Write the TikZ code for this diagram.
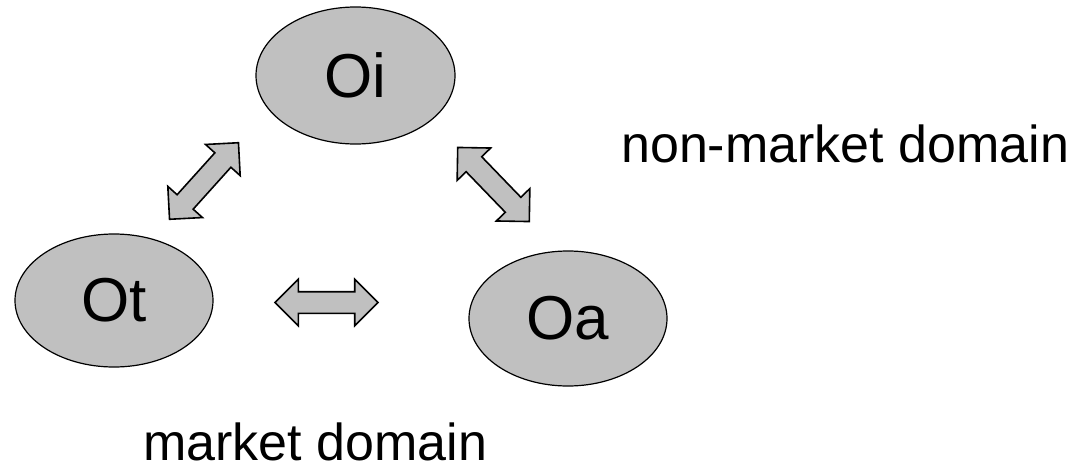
\documentclass[tikz,border=0pt]{standalone}
\usepackage{fontspec}
\setmainfont{Liberation Sans}
\usetikzlibrary{shapes.geometric,shapes.arrows}
\definecolor{blobgray}{RGB}{192,192,192}
\tikzset{
  blob/.style={ellipse, draw=black, line width=1.2pt, fill=blobgray, inner sep=0pt,
    font=\fontsize{62}{70}\selectfont},
  fatarrow/.style={double arrow, draw=black, line width=1.6pt, fill=blobgray,
    inner xsep=0pt, inner ysep=10pt, double arrow head extend=12.5pt,
    minimum height=103pt, double arrow tip angle=90},
  domainlabel/.style={anchor=base west, inner sep=0pt, font=\fontsize{52}{60}\selectfont}
}
\begin{document}
\begin{tikzpicture}[x=1pt,y=-1pt]
\useasboundingbox (0,0) rectangle (1090,469);
\node[blob, minimum width=199pt, minimum height=137pt] (oi) at (355.5,75.5) {Oi};
\node[blob, minimum width=198pt, minimum height=133pt] (ot) at (114,300.5) {Ot};
\node[blob, minimum width=198pt, minimum height=135pt] (oa) at (568,318.5) {Oa};
\node[fatarrow, rotate=48] (ait) at (204,181) {};
\node[fatarrow, rotate=-46] (aia) at (493.5,184.5) {};
\node[fatarrow] (ata) at (326.5,302.5) {};
\node[domainlabel] (nonmarket) at (621,162) {non-market domain};
\node[domainlabel] (market) at (143,460) {market domain};
\end{tikzpicture}
\end{document}
